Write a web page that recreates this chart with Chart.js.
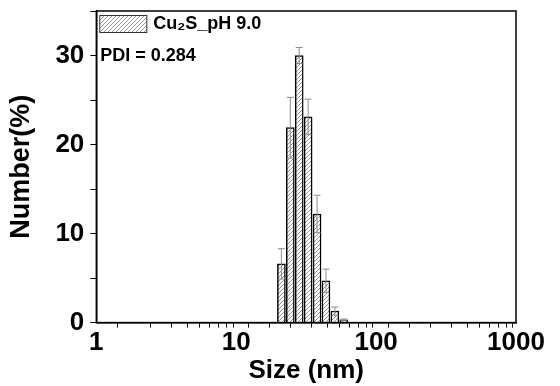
<!DOCTYPE html>
<html>
<head>
<meta charset="utf-8">
<script src="https://cdn.jsdelivr.net/npm/chart.js@4"></script>
<style>
  html, body { margin: 0; padding: 0; background: #fff; }
  #wrap { width: 560px; height: 386px; }
</style>
</head>
<body>
<div id="wrap"><canvas id="dlsChart"></canvas></div>
<script>
// data
const sizes = [21.04, 24.36, 28.21, 32.67, 37.84, 43.82, 50.75, 58.77];
const numbers = [6.6, 21.9, 30.0, 23.1, 12.2, 4.7, 1.3, 0.3];
const errors = [1.7, 3.4, 0.9, 2.0, 2.1, 1.3, 0.45, 0.1];
const xTickLabels = [1, 10, 100, 1000];
const yTickLabels = [0, 10, 20, 30];
const seriesName = "Cu\u2082S_pH 9.0";
const pdiText = "PDI = 0.284";

const FONT = "'Liberation Sans', Arial, sans-serif";

// hatch pattern "////"
function makeHatch() {
    const c = document.createElement("canvas");
    c.width = 4; c.height = 4;
    const g = c.getContext("2d");
    g.fillStyle = "#fff";
    g.fillRect(0, 0, 4, 4);
    g.strokeStyle = "#8a8a8a";
    g.lineWidth = 0.9;
    g.beginPath();
    g.moveTo(0, 4); g.lineTo(4, 0);
    g.moveTo(-1, 1); g.lineTo(1, -1);
    g.moveTo(3, 5); g.lineTo(5, 3);
    g.stroke();
    return g.createPattern(c, "repeat");
}
const hatch = makeHatch();

// error bars, frame, legend box and PDI text
const extras = {
    id: "extras",
    afterDatasetsDraw(chart) {
        const ctx = chart.ctx;
        const ys = chart.scales.y;
        const meta = chart.getDatasetMeta(0);
        ctx.save();
        ctx.strokeStyle = "#8c8c8c";
        ctx.lineWidth = 1;
        meta.data.forEach((bar, i) => {
            const top = ys.getPixelForValue(numbers[i] + errors[i]);
            const bot = ys.getPixelForValue(Math.max(numbers[i] - errors[i], 0));
            ctx.beginPath();
            ctx.moveTo(bar.x, top); ctx.lineTo(bar.x, bot);
            ctx.moveTo(bar.x - 3.5, top); ctx.lineTo(bar.x + 3.5, top);
            ctx.moveTo(bar.x - 3.5, bot); ctx.lineTo(bar.x + 3.5, bot);
            ctx.stroke();
        });
        ctx.restore();
    },
    afterDraw(chart) {
        const ctx = chart.ctx;
        const a = chart.chartArea;
        ctx.save();
        ctx.strokeStyle = "#000";
        ctx.lineWidth = 1.5;
        ctx.strokeRect(a.left, a.top, a.right - a.left, a.bottom - a.top);

        // legend
        const bx = a.left + 3, by = a.top + 4;
        ctx.fillStyle = hatch;
        ctx.fillRect(bx, by, 47, 17);
        ctx.lineWidth = 1;
        ctx.strokeStyle = "#333";
        ctx.strokeRect(bx + 0.5, by + 0.5, 47, 17);
        ctx.fillStyle = "#000";
        ctx.font = "bold 18px " + FONT;
        ctx.textBaseline = "middle";
        ctx.fillText(seriesName, bx + 54, by + 9);
        ctx.fillText(pdiText, a.left + 4, a.top + 45);
        ctx.restore();
    }
};

const ctx = document.getElementById("dlsChart").getContext("2d");
new Chart(ctx, {
    type: "bar",
    data: {
        datasets: [{
            label: seriesName,
            data: sizes.map((s, i) => ({ x: s, y: numbers[i] })),
            backgroundColor: hatch,
            borderColor: "#000",
            borderWidth: 1.5,
            barThickness: 8
        }]
    },
    options: {
        responsive: true,
        maintainAspectRatio: false,
        animation: false,
        layout: { padding: { top: 11, right: 44, left: 5, bottom: 0 } },
        plugins: {
            legend: { display: false },
            tooltip: { enabled: false }
        },
        scales: {
            x: {
                type: "logarithmic",
                min: 1,
                max: 1000,
                border: { color: "#000", width: 1.5 },
                grid: { drawOnChartArea: false, color: "#000", tickLength: 5, tickWidth: 1 },
                ticks: {
                    autoSkip: false,
                    maxRotation: 0,
                    color: "#000",
                    padding: 0,
                    font: { family: FONT, size: 26, weight: "bold" },
                    callback: v => xTickLabels.includes(v) ? String(v) : ""
                },
                title: {
                    display: true,
                    text: "Size (nm)",
                    color: "#000",
                    padding: { top: -4, bottom: 0 },
                    font: { family: FONT, size: 26, weight: "bold" }
                }
            },
            y: {
                min: 0,
                max: 35,
                border: { color: "#000", width: 1.5 },
                grid: { drawOnChartArea: false, color: "#000", tickLength: 6, tickWidth: 1 },
                ticks: {
                    stepSize: 5,
                    color: "#000",
                    padding: 6,
                    font: c => ({
                        family: FONT,
                        size: c.tick && yTickLabels.includes(c.tick.value) ? 26 : 2,
                        weight: "bold"
                    }),
                    callback: v => yTickLabels.includes(v) ? String(v) : ""
                },
                title: {
                    display: true,
                    text: "Number(%)",
                    color: "#000",
                    padding: { top: 0, bottom: 12 },
                    font: { family: FONT, size: 27, weight: "bold" }
                }
            }
        }
    },
    plugins: [extras]
});
</script>
</body>
</html>
